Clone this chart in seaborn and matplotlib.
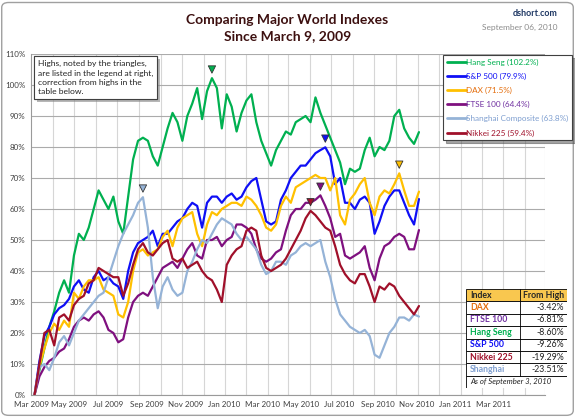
import numpy as np
import pandas as pd
import seaborn as sns
import matplotlib.pyplot as plt
import matplotlib.dates as mdates
import matplotlib.patheffects as pe
from matplotlib.patches import Rectangle, FancyBboxPatch
from matplotlib.lines import Line2D

# weekly closes (Fridays) as % gain since March 9, 2009
dates = pd.date_range('2009-03-06', periods=79, freq='7D')

hang_seng = [0, 8, 15, 22, 27, 33, 37, 33, 45, 52,
             50, 54, 60, 66, 63, 60, 64, 56, 52, 64,
             76, 82, 83, 82, 77, 74, 80, 86, 91, 88,
             82, 90, 94, 99, 89, 98, 102.2, 99, 86, 97,
             93, 85, 91, 95, 97, 88, 82, 78, 74, 79,
             82, 85, 84, 88, 89, 90, 88, 96, 91, 87,
             83, 79, 75, 68, 73, 72, 73, 79, 83, 77,
             80, 79, 82, 90, 92, 86, 83, 81, 84.8]
sp500 = [0, 11, 19, 22, 26, 28, 29, 31, 35, 37,
         34, 33, 38, 40, 37, 38, 36, 35, 31, 40,
         46, 49, 50, 51, 53, 48, 52, 52, 54, 56,
         57, 60, 62, 61, 54, 62, 64, 64, 62, 64,
         65, 63, 64, 67, 69, 70, 63, 56, 55, 56,
         63, 66, 70, 72, 74, 74, 76, 78, 79, 79.9,
         77, 68, 70, 62, 62, 60, 63, 64, 62, 52,
         56, 61, 64, 66, 66, 62, 58, 55, 63.2]
dax = [0, 9, 15, 20, 23, 21, 24, 22, 33, 31,
       35, 37, 37, 38, 34, 33, 32, 26, 25, 30,
       40, 46, 47, 45, 46, 47, 51, 53, 48, 54,
       57, 58, 59, 52, 48, 55, 59, 58, 60, 61,
       62, 62, 61, 64, 63, 61, 58, 54, 53, 55,
       61, 64, 62, 67, 68, 69, 70, 71, 70, 70,
       66, 70, 58, 55, 63, 65, 68, 70, 62, 58,
       64, 66, 65, 68, 71.5, 66, 61, 61, 65.6]
ftse = [0, 6, 9, 11, 12, 14, 15, 18, 22, 24,
        25, 24, 26, 27, 25, 21, 20, 17, 18, 25,
        30, 32, 33, 32, 35, 38, 41, 42, 43, 41,
        44, 47, 49, 45, 44, 50, 50, 51, 48, 50,
        51, 55, 55, 54, 52, 47, 44, 43, 44, 46,
        47, 53, 58, 60, 60, 62, 62, 63, 64.4, 61,
        57, 51, 52, 45, 44, 45, 46, 48, 41, 37,
        44, 48, 49, 51, 52, 51, 47, 47, 53.2]
shanghai = [0, 9, 10, 8, 12, 17, 19, 16, 20, 24,
            26, 28, 30, 32, 33, 38, 43, 48, 52, 55,
            58, 62, 63.8, 54, 38, 28, 35, 38, 34, 32,
            33, 40, 43, 47, 50, 49, 52, 55, 57, 56,
            55, 52, 50, 51, 49, 47, 42, 39, 40, 43,
            43, 42, 45, 46, 48, 49, 48, 49, 50, 43,
            38, 31, 26, 24, 22, 21, 20, 21, 19, 13,
            12, 16, 20, 22, 25, 25, 24, 26, 25.3]
nikkei = [0, 10, 20, 21, 16, 25, 26, 24, 29, 31,
          32, 36, 37, 41, 40, 39, 38, 38, 32, 36,
          42, 47, 49, 46, 45, 47, 49, 50, 44, 43,
          44, 41, 42, 43, 40, 38, 37, 34, 30, 42,
          45, 47, 48, 53, 54, 53, 45, 41, 40, 41,
          42, 44, 47, 50, 53, 57, 59.4, 58, 56, 54,
          53, 48, 42, 39, 37, 36, 39, 39, 35, 30,
          35, 34, 36, 35, 32, 30, 28, 26, 28.7]

names = ['Hang Seng', 'S&P 500', 'DAX', 'FTSE 100', 'Shanghai Composite', 'Nikkei 225']
series = [hang_seng, sp500, dax, ftse, shanghai, nikkei]
line_colors = ['#00B050', '#0F0FF5', '#FFC000', '#7F107F', '#95B3D7', '#A0102A']
text_colors = ['#00B050', '#0F0FF5', '#E46C0A', '#7030A0', '#7F9FD0', '#A0102A']

# correction table
table_names = ['DAX', 'FTSE 100', 'Hang Seng', 'S&P 500', 'Nikkei 225', 'Shanghai']
table_vals = ['-3.42%', '-6.81%', '-8.60%', '-9.26%', '-19.29%', '-23.51%']
table_colors = ['#E46C0A', '#7030A0', '#00B050', '#0F0FF5', '#A0102A', '#7F9FD0']

xlabels = ['Mar 2009', 'May 2009', 'Jul 2009', 'Sep 2009', 'Nov 2009', 'Jan 2010',
           'Mar 2010', 'May 2010', 'Jul 2010', 'Sep 2010', 'Nov 2010', 'Jan 2011', 'Mar 2011']

df = pd.concat([pd.DataFrame({'date': dates, 'value': v, 'index': n})
                for n, v in zip(names, series)], ignore_index=True)
peaks = df.loc[df.groupby('index', sort=False)['value'].idxmax()].copy()
peaks['marker_y'] = peaks['value'] + 2.8

sns.set_style('white')
plt.rcParams['font.family'] = ['Lato', 'DejaVu Sans']

fig = plt.figure(figsize=(5.75, 4.17), dpi=100)
ax = fig.add_axes([31 / 575, 22 / 417, 514 / 575, 341 / 417])
ax.set_axisbelow(True)

sns.lineplot(data=df, x='date', y='value', hue='index', hue_order=names,
             palette=line_colors, lw=1.6, legend=False, ax=ax)
sns.scatterplot(data=peaks, x='date', y='marker_y', hue='index', hue_order=names,
                palette=line_colors, marker='v', s=28, edgecolor='#333333',
                linewidth=0.6, legend=False, ax=ax, zorder=5)

start = mdates.date2num(pd.Timestamp('2009-03-01'))
end = mdates.date2num(pd.Timestamp('2011-03-01'))
ax.set_xlim(start, end)
ax.set_ylim(0, 110)
ax.set_yticks(range(0, 111, 10))
ax.set_yticklabels([f'{v}%' for v in range(0, 111, 10)])
ax.set_xticks(np.linspace(start, start + 0.9 * (end - start), len(xlabels)))
ax.set_xticklabels(xlabels)
ax.xaxis.set_minor_locator(mdates.MonthLocator())
ax.grid(False)
ax.yaxis.grid(True, color='#ABABAB', lw=0.8)
ax.xaxis.grid(True, which='minor', color='#D6D6D6', lw=0.8)
ax.tick_params(axis='both', which='both', labelsize=5.8, colors='#404040', length=0, pad=4)
ax.set_xlabel('')
ax.set_ylabel('')
for s in ['top', 'right']:
    ax.spines[s].set_visible(False)
for s in ['left', 'bottom']:
    ax.spines[s].set_color('#9A9A9A')
    ax.spines[s].set_linewidth(0.8)

# titles
fig.text(0.5, 1 - 28 / 417, 'Comparing Major World Indexes\nSince March 9, 2009',
         ha='center', va='center', fontsize=10, fontweight='bold', color='#3D1010',
         linespacing=1.5)
fig.text(558 / 575, 1 - 13 / 417, 'dshort.com', ha='right', va='center',
         fontsize=6.5, fontweight='bold', color='#1F3864')
fig.text(558 / 575, 1 - 27 / 417, 'September 06, 2010', ha='right', va='center',
         fontsize=6, color='#8C8C8C')

# note box
note = fig.text(38 / 575, 1 - 60 / 417,
                'Highs, noted by the triangles,\nare listed in the legend at right,\n'
                'correction from highs in the\ntable below.',
                ha='left', va='top', fontsize=6.1, color='#222222', linespacing=1.4,
                bbox=dict(boxstyle='square,pad=0.45', fc='white', ec='#404040', lw=0.8))
note.get_bbox_patch().set_path_effects([
    pe.withSimplePatchShadow(offset=(2, -2), shadow_rgbFace='#888888', alpha=0.6),
    pe.Normal()])

# legend
handles = [Line2D([0], [0], color=c, lw=2) for c in line_colors]
labels = [f'{n} ({max(v):.1f}%)' for n, v in zip(names, series)]
leg = fig.legend(handles, labels, loc='upper left', bbox_to_anchor=(443 / 575, 1 - 55 / 417),
                 frameon=True, fancybox=False, shadow=True, edgecolor='#404040',
                 fontsize=5.9, handlelength=2.3, handletextpad=0.1, labelspacing=0.85,
                 borderpad=0.45, borderaxespad=0)
leg.get_frame().set_linewidth(0.8)
for t, c in zip(leg.get_texts(), text_colors):
    t.set_color(c)

# table
tax = fig.add_axes([466 / 575, 1 - 388 / 417, 101 / 575, 99 / 417])
tax.set_xlim(0, 1)
tax.set_ylim(8, 0)
tax.axis('off')
split = 0.535
tax.add_patch(Rectangle((0, 0), 1, 1, fc='#F9C74F', ec='black', lw=0.6))
tax.text(0.04, 0.5, 'Index', ha='left', va='center', fontsize=6.3, fontweight='bold')
tax.text((1 + split) / 2, 0.5, 'From High', ha='center', va='center', fontsize=6.3,
         fontweight='bold')
for i, (n, v, c) in enumerate(zip(table_names, table_vals, table_colors)):
    y = i + 1
    tax.add_patch(Rectangle((0, y), 1, 1, fc='white', ec='black', lw=0.6))
    tax.text(0.04, y + 0.5, n, ha='left', va='center', fontsize=6.3, fontweight='bold', color=c)
    tax.text(0.97, y + 0.5, v, ha='right', va='center', fontsize=6.3, color='#222222')
tax.plot([split, split], [0, 7], color='black', lw=0.6)
tax.add_patch(Rectangle((0, 7), 1, 1, fc='white', ec='black', lw=0.6))
tax.text(0.04, 7.5, 'As of September 3, 2010', ha='left', va='center', fontsize=5.6,
         fontstyle='italic', color='#222222')

fig.patches.append(FancyBboxPatch((0.003, 0.004), 0.994, 0.99,
                                  boxstyle='round,pad=0,rounding_size=0.012',
                                  transform=fig.transFigure, fill=False,
                                  ec='#A0A0A0', lw=1))

fig.savefig('out.png', dpi=100)
